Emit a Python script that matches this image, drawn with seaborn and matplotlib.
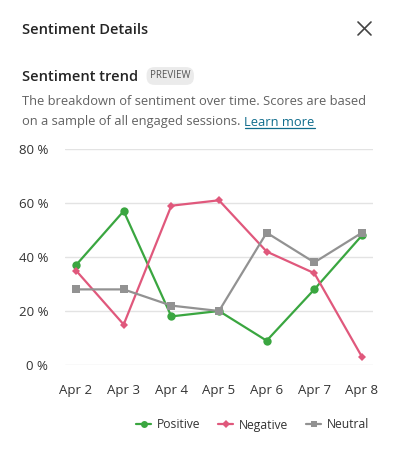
import matplotlib
matplotlib.use("Agg")
import matplotlib.pyplot as plt
import seaborn as sns
import pandas as pd
from matplotlib.lines import Line2D

days = ["Apr 2", "Apr 3", "Apr 4", "Apr 5", "Apr 6", "Apr 7", "Apr 8"]
positive = [37, 57, 18, 20, 9, 28, 48]
negative = [35, 15, 59, 61, 42, 34, 3]
neutral = [28, 28, 22, 20, 49, 38, 49]
series = ["Positive", "Negative", "Neutral"]
yticks = [0, 20, 40, 60, 80]

sns.set_theme(style="white")
plt.rcParams["font.family"] = ["Open Sans", "DejaVu Sans"]

df = pd.DataFrame({
    "day": days * 3,
    "pos": list(range(len(days))) * 3,
    "value": positive + negative + neutral,
    "series": [s for s in series for _ in days],
})

W, H = 394, 454
fig = plt.figure(figsize=(W / 100, H / 100), dpi=100)
fig.patch.set_facecolor("white")


def fx(x):
    return x / W


def fy(y):
    return 1 - y / H


ax = fig.add_axes([fx(65), fy(365), fx(373) - fx(65), fy(149) - fy(365)])
palette = {"Positive": "#3aa640", "Negative": "#e0587c", "Neutral": "#929292"}
markers = {"Positive": "o", "Negative": "D", "Neutral": "s"}
sns.lineplot(data=df, x="pos", y="value", hue="series", style="series",
             markers=markers, dashes=False, palette=palette, ax=ax,
             linewidth=1.6, markersize=6, markeredgewidth=0, legend=False)
# smaller diamond for negative
for line in ax.lines:
    if line.get_marker() == "D":
        line.set_markersize(4.5)

ax.set_xlim(-0.231, 6.231)
ax.set_ylim(0, 80)
ax.set_yticks(yticks)
ax.set_yticklabels([f"{v} %" for v in yticks], fontsize=9.5, color="#333333")
ax.set_xticks(range(len(days)))
ax.set_xticklabels(days, fontsize=9.5, color="#333333")
ax.set_xlabel("")
ax.set_ylabel("")
ax.grid(axis="y", color="#e3e3e3", linewidth=1)
ax.set_axisbelow(True)
for s in ax.spines.values():
    s.set_visible(False)
ax.tick_params(axis="y", length=0, pad=12)
ax.tick_params(axis="x", length=8, width=1, color="#555555", pad=6, direction="out")

# header texts
fig.text(fx(22), fy(30), "Sentiment Details", fontsize=10.5, fontweight="semibold",
         color="#242424", va="center")
fig.add_artist(Line2D([fx(358), fx(371)], [fy(22), fy(35)], color="#444444", lw=1.2))
fig.add_artist(Line2D([fx(358), fx(371)], [fy(35), fy(22)], color="#444444", lw=1.2))
fig.text(fx(22), fy(77), "Sentiment trend", fontsize=10.5, fontweight="semibold",
         color="#242424", va="center")
fig.text(fx(150), fy(76), "PREVIEW", fontsize=7, color="#555555", va="center",
         bbox=dict(boxstyle="round,pad=0.35,rounding_size=0.8", fc="#ebebeb", ec="none"))
fig.text(fx(22), fy(101), "The breakdown of sentiment over time. Scores are based",
         fontsize=9.3, color="#616161", va="center")
t1 = fig.text(fx(22), fy(122), "on a sample of all engaged sessions.",
              fontsize=9.3, color="#616161", va="center")
fig.canvas.draw()
bb = t1.get_window_extent()
x_link = bb.x1 + 4
t2 = fig.text(x_link / W, fy(122), "Learn more", fontsize=9.3, color="#0f6c8c", va="center")
fig.canvas.draw()
bb2 = t2.get_window_extent()
fig.add_artist(Line2D([bb2.x0 / W, bb2.x1 / W], [(bb2.y0 + 0.5) / H] * 2,
                      color="#0f6c8c", lw=0.9))

# legend
handles = [Line2D([], [], color=palette[s], marker=markers[s], lw=1.6,
                  markersize=5 if s != "Negative" else 4, markeredgewidth=0)
           for s in series]
fig.legend(handles, series, loc="center right", bbox_to_anchor=(fx(374), fy(425)),
           ncol=3, frameon=False, fontsize=8.7, handlelength=1.2, handletextpad=0.5,
           columnspacing=1.5, labelcolor="#333333", borderaxespad=0)

fig.savefig("out.png", dpi=100, facecolor="white")
